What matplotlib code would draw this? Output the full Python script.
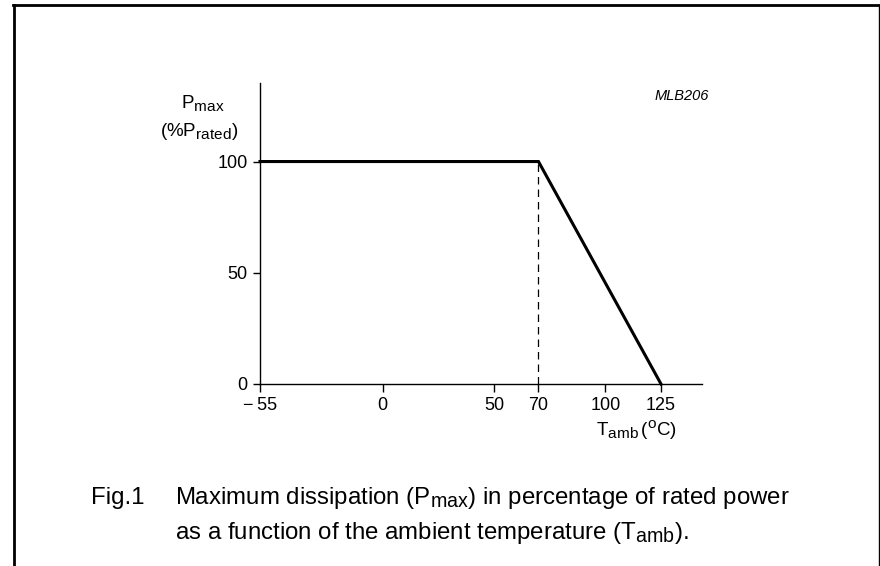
import matplotlib
matplotlib.use("Agg")
import matplotlib.pyplot as plt
from matplotlib.lines import Line2D
import matplotlib._mathtext as _mt

_mt.SHRINK_FACTOR = 0.82

plt.rcParams['font.family'] = ['Liberation Sans', 'DejaVu Sans']
plt.rcParams['mathtext.fontset'] = 'custom'
plt.rcParams['mathtext.rm'] = 'Liberation Sans'
plt.rcParams['mathtext.it'] = 'Liberation Sans:italic'

# Data
temp = [-55, 70, 125]
pmax = [100, 100, 0]
knee_temp = 70
xticks = [-55, 0, 50, 70, 100, 125]
xticklabels = ['\u2212\u200955', '0', '50', '70', '100', '125']
yticks = [0, 50, 100]
yticklabels = ['0', '50', '100']

W, H = 880, 566
fig = plt.figure(figsize=(W / 100, H / 100), dpi=100)
ax = fig.add_axes([260 / W, 1 - 384 / H, (702 - 260) / W, (384 - 83) / H])

ax.plot(temp, pmax, color='black', lw=2.2, solid_joinstyle='miter', clip_on=False)
ax.plot([knee_temp, knee_temp], [0, pmax[1]], color='black', lw=0.9,
        dashes=(6, 4), clip_on=False)

ax.set_xlim(-55, 143.4)
ax.set_ylim(0, 135.3)
for s in ['top', 'right']:
    ax.spines[s].set_visible(False)
for s in ['left', 'bottom']:
    ax.spines[s].set_linewidth(1.0)

ax.set_xticks(xticks)
ax.set_xticklabels(xticklabels)
ax.set_yticks(yticks)
ax.set_yticklabels(yticklabels)
ax.tick_params(axis='x', direction='out', length=6, width=1, labelsize=13, pad=3)
ax.tick_params(axis='y', direction='out', length=5, width=1, labelsize=13, pad=4)

fig.text(203 / W, 1 - 103 / H, r'$\mathregular{P_{max}}$', ha='center', va='center', fontsize=13.5)
fig.text(199 / W, 1 - 131 / H, r'$\mathregular{(\%P_{rated})}$', ha='center', va='center', fontsize=13.5)
fig.text(636 / W, 1 - 430 / H, r'$\mathregular{T_{amb}\,(^{o}C)}$', ha='center', va='center', fontsize=13.5)
fig.text(682 / W, 1 - 96 / H, 'MLB206', ha='center', va='center', fontsize=10.5, style='italic')

fig.text(91 / W, 1 - 498 / H, 'Fig.1', ha='left', va='center', fontsize=17.3)
fig.text(175 / W, 1 - 498 / H,
         r'Maximum dissipation ($\mathregular{P_{max}}$) in percentage of rated power',
         ha='left', va='center', fontsize=17.3)
fig.text(175 / W, 1 - 533 / H,
         r'as a function of the ambient temperature ($\mathregular{T_{amb}}$).',
         ha='left', va='center', fontsize=17.3)

# Frame
fig.add_artist(Line2D([14 / W, 14 / W], [0, 1 - 5 / H], transform=fig.transFigure, color='black', lw=2))
fig.add_artist(Line2D([13 / W, 879.5 / W], [1 - 5 / H, 1 - 5 / H], transform=fig.transFigure, color='black', lw=2))
fig.add_artist(Line2D([879.3 / W, 879.3 / W], [0, 1 - 5 / H], transform=fig.transFigure, color='black', lw=1))

fig.savefig('out.png', dpi=100)
